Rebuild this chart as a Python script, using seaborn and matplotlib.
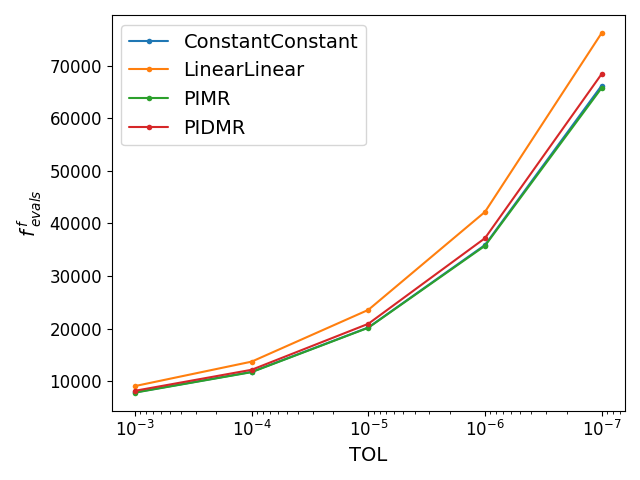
import numpy as np
import pandas as pd
import matplotlib
matplotlib.use("Agg")
import matplotlib.pyplot as plt
import seaborn as sns

tol = [1e-3, 1e-4, 1e-5, 1e-6, 1e-7]
constant_constant = [7850, 11750, 20200, 35900, 66250]
linear_linear = [9050, 13700, 23550, 42200, 76250]
pimr = [7800, 11700, 20150, 35750, 65800]
pidmr = [8150, 12150, 20900, 37200, 68450]

names = ["ConstantConstant", "LinearLinear", "PIMR", "PIDMR"]
series = [constant_constant, linear_linear, pimr, pidmr]
df = pd.DataFrame({
    "TOL": tol * len(names),
    "evals": [v for s in series for v in s],
    "method": [n for n in names for _ in tol],
})

sns.set_style("ticks")
plt.rcParams["font.family"] = ["DejaVu Sans"]
plt.rcParams.update({"text.color": "black", "axes.labelcolor": "black",
                     "xtick.color": "black", "ytick.color": "black",
                     "axes.edgecolor": "black"})
fig, ax = plt.subplots(figsize=(6.4, 4.8), dpi=100)
sns.lineplot(data=df, x="TOL", y="evals", hue="method", hue_order=names,
             palette=["#1f77b4", "#ff7f0e", "#2ca02c", "#d62728"],
             marker=".", markersize=8, markeredgewidth=0, linewidth=1.5, ax=ax)
ax.set_xscale("log")
ax.invert_xaxis()
ax.set_xlabel("TOL", fontsize=14)
ax.set_ylabel(r"$f\,^f_{evals}$", fontsize=14)
ax.tick_params(labelsize=12)
ax.legend(fontsize=14, loc="upper left")
fig.tight_layout()
fig.savefig("out.png")
